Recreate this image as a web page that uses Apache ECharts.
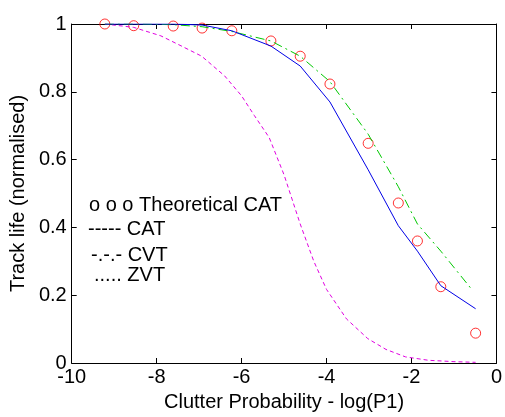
<!DOCTYPE html>
<html>
<head>
<meta charset="utf-8">
<script src="https://cdn.jsdelivr.net/npm/echarts@6/dist/echarts.min.js"></script>
<style>
  html, body { margin: 0; padding: 0; background: #fff; }
  #chart { width: 505px; height: 417px; }
</style>
</head>
<body>
<div id="chart"></div>
<script>
// x positions (log P1) shared by the theoretical points and the CAT curve
const xPoints = [-9.22, -8.54, -7.61, -6.93, -6.23, -5.31, -4.62, -3.92, -3.02, -2.31, -1.86, -1.31, -0.49]
const theoreticalCat = [1.0, 0.995, 0.994, 0.988, 0.98, 0.95, 0.905, 0.823, 0.648, 0.472, 0.36, 0.225, 0.088]
const catValues = [1.0, 1.0, 1.0, 0.997, 0.98, 0.935, 0.876, 0.77, 0.57, 0.405, 0.33, 0.228, 0.16]
// CVT curve stops a little earlier
const cvtX = [-9.22, -8.54, -7.61, -6.93, -6.23, -5.31, -4.62, -3.92, -3.02, -2.31, -1.86, -1.31, -0.6]
const cvtValues = [1.0, 1.0, 0.998, 0.992, 0.978, 0.95, 0.905, 0.83, 0.675, 0.52, 0.41, 0.33, 0.22]
// ZVT is a smooth curve, read at more points
const zvtX = [-9.22, -8.54, -7.9, -7.4, -6.94, -6.4, -6.0, -5.7, -5.35, -5.0, -4.62, -4.3, -4.0, -3.53, -3.03, -2.6, -2.14, -1.6, -1.0, -0.49]
const zvtValues = [1.0, 0.99, 0.965, 0.934, 0.905, 0.847, 0.788, 0.73, 0.665, 0.555, 0.41, 0.3, 0.217, 0.13, 0.072, 0.04, 0.018, 0.008, 0.004, 0.002]

const legendLines = ['o o o Theoretical CAT', '----- CAT', '-.-.- CVT', '..... ZVT']

function pairs (xs, ys) {
  return xs.map((x, i) => [x, ys[i]])
}

const font = "'Liberation Sans', Arial, sans-serif"
const chart = echarts.init(document.getElementById('chart'))

const tickStyle = { inside: true, length: 5, lineStyle: { color: '#000', width: 1 } }
const lineStyle = { color: '#000', width: 1 }

const option = {
  animation: false,
  backgroundColor: '#fff',
  grid: { left: 68, right: 6, top: 24, bottom: 49, containLabel: false },
  xAxis: [
    {
      type: 'value',
      min: -10,
      max: 0,
      interval: 2,
      name: 'Clutter Probability - log(P1)',
      nameLocation: 'middle',
      nameGap: 29,
      nameTextStyle: { color: '#000', fontSize: 20, fontFamily: font },
      axisLine: { show: true, onZero: false, lineStyle: lineStyle },
      axisTick: tickStyle,
      axisLabel: { color: '#000', fontSize: 20, fontFamily: font, margin: 4 },
      splitLine: { show: false }
    },
    {
      type: 'value',
      position: 'top',
      min: -10,
      max: 0,
      interval: 2,
      axisLine: { show: true, onZero: false, lineStyle: lineStyle },
      axisTick: tickStyle,
      axisLabel: { show: false },
      splitLine: { show: false }
    }
  ],
  yAxis: [
    {
      type: 'value',
      min: 0,
      max: 1,
      interval: 0.2,
      name: 'Track life (normalised)',
      nameLocation: 'middle',
      nameGap: 36,
      nameTextStyle: { color: '#000', fontSize: 20, fontFamily: font },
      axisLine: { show: true, onZero: false, lineStyle: lineStyle },
      axisTick: tickStyle,
      axisLabel: { color: '#000', fontSize: 20, fontFamily: font, margin: 5 },
      splitLine: { show: false }
    },
    {
      type: 'value',
      position: 'right',
      min: 0,
      max: 1,
      interval: 0.2,
      axisLine: { show: true, onZero: false, lineStyle: lineStyle },
      axisTick: tickStyle,
      axisLabel: { show: false },
      splitLine: { show: false }
    }
  ],
  series: [
    {
      name: 'ZVT',
      type: 'line',
      symbol: 'none',
      lineStyle: { color: '#e000e0', width: 1, type: [4, 3] },
      data: pairs(zvtX, zvtValues)
    },
    {
      name: 'CVT',
      type: 'line',
      symbol: 'none',
      lineStyle: { color: '#00c800', width: 1, type: [9, 4, 2, 4] },
      data: pairs(cvtX, cvtValues)
    },
    {
      name: 'CAT',
      type: 'line',
      symbol: 'none',
      lineStyle: { color: '#0000e6', width: 1 },
      data: pairs(xPoints, catValues)
    },
    {
      name: 'Theoretical CAT',
      type: 'scatter',
      symbol: 'circle',
      symbolSize: 10,
      itemStyle: { color: 'rgba(0,0,0,0)', borderColor: '#ff0000', borderWidth: 1 },
      data: pairs(xPoints, theoreticalCat)
    }
  ],
  // hand-written legend text, as in the original figure
  graphic: legendLines.map((t, i) => ({
    type: 'text',
    left: [89, 88, 91, 94][i],
    top: [206, 230, 256, 276][i] - 11,
    style: { text: t, fill: '#000', fontSize: 20, fontFamily: font }
  }))
}

chart.setOption(option)
</script>
</body>
</html>
